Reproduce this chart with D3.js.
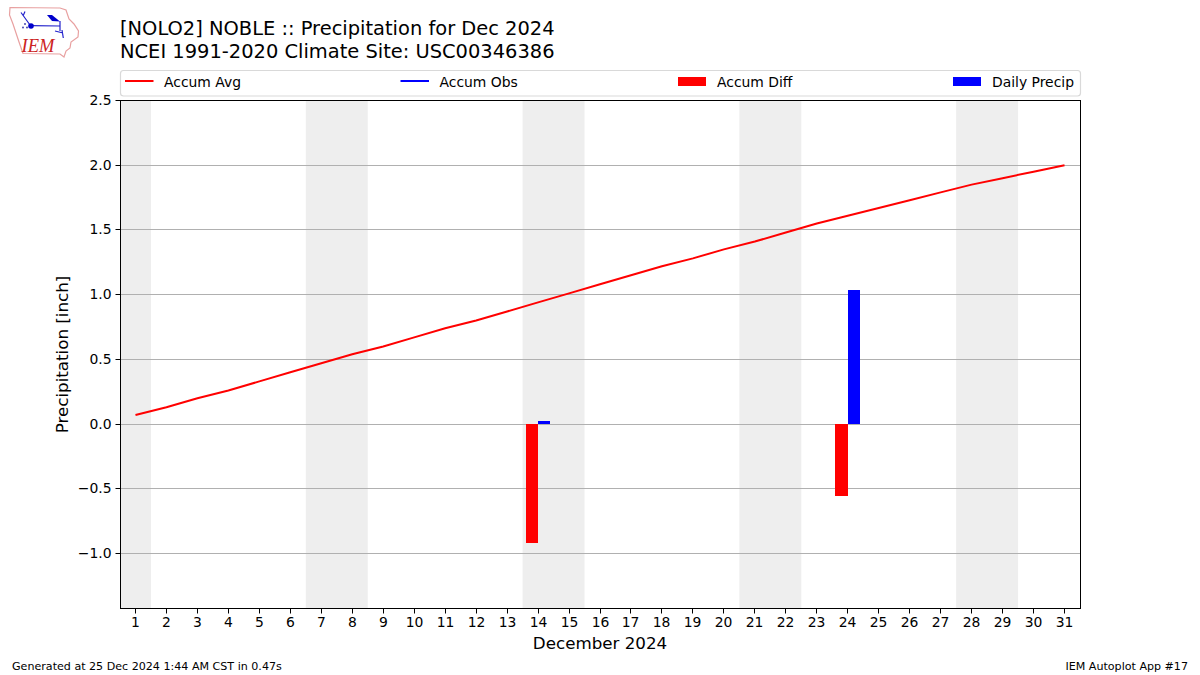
<!DOCTYPE html>
<html lang="en">
<head>
<meta charset="utf-8">
<title>Precipitation for Dec 2024</title>
<script src="https://d3js.org/d3.v7.min.js"></script>
<style>
    html, body { margin: 0; padding: 0; background: #fff; }
    svg text { font-family: "DejaVu Sans", sans-serif; fill: #000; }
</style>
</head>
<body>
<script>
var days = d3.range(1, 32);
var accumAvg = [0.07, 0.13, 0.20, 0.26, 0.33, 0.40, 0.47, 0.54, 0.60, 0.67, 0.74, 0.80, 0.87, 0.94, 1.01, 1.08,
    1.15, 1.22, 1.28, 1.35, 1.41, 1.48, 1.55, 1.61, 1.67, 1.73, 1.79, 1.85, 1.90, 1.95, 2.00];
var precipDays = [14, 24];
var dailyPrecip = [0.02, 1.03];
var accumDiff = [-0.92, -0.56];
var weekendSpans = [[0.5, 1.5], [6.5, 8.5], [13.5, 15.5], [20.5, 22.5], [27.5, 29.5]];
var yTicks = [-1.0, -0.5, 0.0, 0.5, 1.0, 1.5, 2.0, 2.5];
var legendItems = ["Accum Avg", "Accum Obs", "Accum Diff", "Daily Precip"];
var titleLines = ["[NOLO2] NOBLE :: Precipitation for Dec 2024", "NCEI 1991-2020 Climate Site: USC00346386"];

var width = 1200, height = 675;
var plotL = 120, plotR = 1080, plotT = 100.5, plotB = 608.5;

var svg = d3.select("body").append("svg")
    .attr("width", width)
    .attr("height", height)
    .style("display", "block");

var x = d3.scaleLinear().domain([0.5, 31.5]).range([plotL, plotR]);
var y = d3.scaleLinear().domain([-1.425, 2.5]).range([plotB, plotT]);
var barW = x(1.4) - x(1);

// snap to the pixel row, as the gridlines do in the original
function snap(v) { return Math.floor(v) + 0.5; }

// weekend shading
svg.selectAll("rect.span").data(weekendSpans).enter().append("rect")
    .attr("class", "span")
    .attr("x", function(d) { return x(d[0]); })
    .attr("width", function(d) { return x(d[1]) - x(d[0]); })
    .attr("y", plotT)
    .attr("height", plotB - plotT)
    .attr("fill", "#eeeeee");

// grid
svg.selectAll("line.grid").data(yTicks.filter(function(t) { return t < 2.5; })).enter().append("line")
    .attr("class", "grid")
    .attr("x1", plotL).attr("x2", plotR)
    .attr("y1", function(d) { return snap(y(d)); })
    .attr("y2", function(d) { return snap(y(d)); })
    .attr("stroke", "#b0b0b0")
    .attr("stroke-width", 1);

// bars
var zeroY = Math.floor(y(0));
svg.selectAll("rect.diff").data(precipDays).enter().append("rect")
    .attr("class", "diff")
    .attr("x", function(d) { return x(d) - barW; })
    .attr("width", barW)
    .attr("y", zeroY)
    .attr("height", function(d, i) { return Math.floor(y(accumDiff[i])) - zeroY; })
    .attr("fill", "#ff0000")
    .attr("shape-rendering", "crispEdges");

svg.selectAll("rect.precip").data(precipDays).enter().append("rect")
    .attr("class", "precip")
    .attr("x", function(d) { return x(d); })
    .attr("width", barW)
    .attr("y", function(d, i) { return Math.floor(y(dailyPrecip[i])); })
    .attr("height", function(d, i) { return zeroY - Math.floor(y(dailyPrecip[i])); })
    .attr("fill", "#0000ff")
    .attr("shape-rendering", "crispEdges");

// average line
var line = d3.line()
    .x(function(d, i) { return x(days[i]); })
    .y(function(d) { return y(d); });

svg.append("path")
    .datum(accumAvg)
    .attr("d", line)
    .attr("fill", "none")
    .attr("stroke", "#ff0000")
    .attr("stroke-width", 2);

// axes
var xAxis = d3.axisBottom(x).tickValues(days).tickFormat(d3.format("d")).tickSize(5).tickPadding(4).offset(0);
var yAxis = d3.axisLeft(y).tickValues(yTicks).tickSize(5).tickPadding(4).offset(0)
    .tickFormat(function(d) { return d3.format(".1f")(d).replace("-", "\u2212"); });

var gx = svg.append("g").attr("transform", "translate(0," + plotB + ")").call(xAxis);
var gy = svg.append("g").attr("transform", "translate(120.5,0)").call(yAxis);
gx.selectAll(".tick").attr("transform", function(d) { return "translate(" + snap(x(d)) + ",0)"; });
gy.selectAll(".tick").attr("transform", function(d) { return "translate(0," + snap(y(d)) + ")"; });
[gx, gy].forEach(function(g) {
    g.select(".domain").remove();
    g.selectAll("line").attr("stroke", "#000").attr("stroke-width", 1);
    g.selectAll("text").attr("font-size", 13.9).attr("font-family", "DejaVu Sans");
});

svg.append("rect")
    .attr("x", 120.5).attr("y", plotT)
    .attr("width", 960).attr("height", plotB - plotT)
    .attr("fill", "none").attr("stroke", "#000").attr("stroke-width", 1);

// labels
svg.append("text").attr("x", 600).attr("y", 649)
    .attr("text-anchor", "middle").attr("font-size", 16.7)
    .text("December 2024");
svg.append("text")
    .attr("transform", "translate(67.5,354.5) rotate(-90)")
    .attr("text-anchor", "middle").attr("font-size", 16.7)
    .text("Precipitation [inch]");

svg.selectAll("text.title").data(titleLines).enter().append("text")
    .attr("class", "title")
    .attr("x", 120).attr("y", function(d, i) { return 35 + i * 22.5; })
    .attr("font-size", 19.45)
    .text(function(d) { return d; });

svg.append("text").attr("x", 12).attr("y", 670).attr("font-size", 11.1)
    .text("Generated at 25 Dec 2024 1:44 AM CST in 0.47s");
svg.append("text").attr("x", 1188).attr("y", 670).attr("text-anchor", "end").attr("font-size", 11.1)
    .text("IEM Autoplot App #17");

// legend
svg.append("rect")
    .attr("x", 120.5).attr("y", 70.5).attr("width", 960).attr("height", 25.5).attr("rx", 3)
    .attr("fill", "#fff").attr("stroke", "#d9d9d9").attr("stroke-width", 1.2);

var legendX = [125, 400.5, 678, 953];
var legendColor = ["#ff0000", "#0000ff", "#ff0000", "#0000ff"];
var lg = svg.selectAll("g.leg").data(legendItems).enter().append("g")
    .attr("class", "leg")
    .attr("transform", function(d, i) { return "translate(" + legendX[i] + ",81)"; });
lg.filter(function(d, i) { return i < 2; }).append("line")
    .attr("x1", 0).attr("x2", 28.5).attr("y1", 0).attr("y2", 0)
    .attr("stroke-width", 2)
    .attr("stroke", function(d) { return legendColor[legendItems.indexOf(d)]; });
lg.filter(function(d, i) { return i >= 2; }).append("rect")
    .attr("x", 0).attr("y", -4).attr("width", 28).attr("height", 9)
    .attr("fill", function(d) { return legendColor[legendItems.indexOf(d)]; });
lg.append("text").attr("x", 39).attr("y", 5.5).attr("font-size", 13.9)
    .text(function(d) { return d; });

// IEM logo, traced by eye
var logo = svg.append("g");
logo.append("path")
    .attr("d", "M10,7.5 L60,8 L66,10 L69,19 L74,24 L78.5,31 L78,37 L71,42 L70,48 L66,51 L64,57 L60,54 L23,53.5 L19,42 L16,33 L13,24 L9.5,15 Z")
    .attr("fill", "#fff").attr("stroke", "#e8a0a0").attr("stroke-width", 1.2);
logo.append("path")
    .attr("d", "M21,12.5 L30,25 M25,11.5 L23,16 M31,25.7 L60,26 M60,21 L60,31 M55,31 L63,33 M62,30 L63.3,38")
    .attr("fill", "none").attr("stroke", "#2222cc").attr("stroke-width", 1.2);
logo.append("path")
    .attr("d", "M47,15 L52,15 L60,21.5 L52,21 Z")
    .attr("fill", "#0000cc");
logo.append("circle").attr("cx", 31).attr("cy", 26).attr("r", 2.8).attr("fill", "#0000cc");
logo.selectAll("circle.dot").data([[25, 24], [23, 27.5], [27, 27.5]]).enter().append("circle")
    .attr("class", "dot")
    .attr("cx", function(d) { return d[0]; }).attr("cy", function(d) { return d[1]; })
    .attr("r", 0.9).attr("fill", "#3333aa");
logo.append("text").attr("x", 21.5).attr("y", 52)
    .attr("font-size", 18.5)
    .style("font-family", "'Liberation Serif', serif").style("font-style", "italic").style("fill", "#cc2222")
    .text("IEM");
</script>
</body>
</html>
